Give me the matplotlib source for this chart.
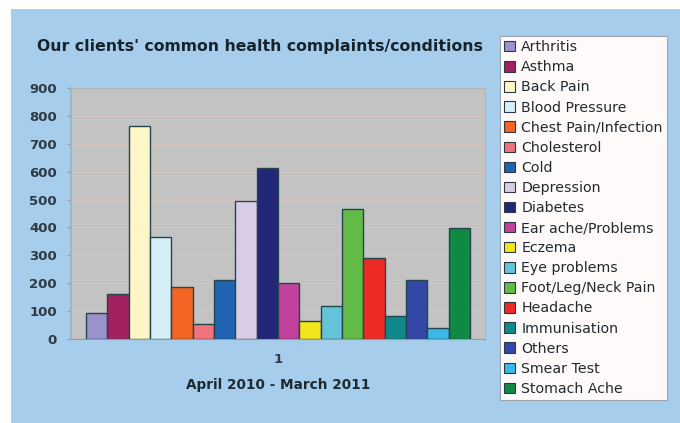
import matplotlib
matplotlib.use("Agg")
import matplotlib.pyplot as plt
from matplotlib.patches import Rectangle, Patch
import numpy as np

# Complaint categories and counts for the period
categories = ["Arthritis", "Asthma", "Back Pain", "Blood Pressure",
              "Chest Pain/Infection", "Cholesterol", "Cold", "Depression",
              "Diabetes", "Ear ache/Problems", "Eczema", "Eye problems",
              "Foot/Leg/Neck Pain", "Headache", "Immunisation", "Others",
              "Smear Test", "Stomach Ache"]
counts = [95, 160, 765, 365, 188, 52, 213, 495, 612, 202, 63, 120,
          466, 289, 82, 213, 38, 399]
colors = ["#9b93cc", "#a3215f", "#fff6c8", "#d6eef6", "#f26522", "#f2737b",
          "#2063b0", "#d9cce6", "#232576", "#c2419b", "#f4e41c", "#64c3d6",
          "#62bb46", "#ee2a24", "#11898a", "#3247a6", "#3cb8e8", "#108a43"]
group_labels = ["1"]
yticks = list(range(0, 901, 100))

plt.rcParams["font.family"] = ["DejaVu Sans"]
fig = plt.figure(figsize=(6.8, 4.23), dpi=100, facecolor="white")

# light blue chart background
fig.patches.append(Rectangle((11 / 680, 0), 1 - 11 / 680, (423 - 9) / 423,
                             transform=fig.transFigure, facecolor="#a6cdec",
                             edgecolor="none", zorder=-5))

ax = fig.add_axes([71 / 680, (423 - 339) / 423, 414 / 680, 251 / 423])
ax.set_zorder(1)
ax.set_facecolor("#c3c3c3")

n = len(categories)
group_width = 0.8
w = group_width / n
x0 = np.arange(len(group_labels))
for i, (lab, val, col) in enumerate(zip(categories, counts, colors)):
    ax.bar(x0 + (i - (n - 1) / 2) * w, [val], width=w, color=col,
           edgecolor="#24454d", linewidth=1.0, label=lab, zorder=3)

half = group_width / 2 * 414 / 384
ax.set_xlim(-half, half)
ax.set_ylim(0, 900)
ax.set_yticks(yticks)
ax.set_yticklabels([str(t) for t in yticks], fontsize=9.5, fontweight="bold",
                   color="#2e3a44")
ax.set_xticks(x0)
ax.set_xticklabels(group_labels, fontsize=9.5, fontweight="bold", color="#2e3a44")
ax.tick_params(axis="y", length=3, pad=7, color="#8aa0b0")
ax.tick_params(axis="x", length=0, pad=10)
ax.yaxis.grid(True, color="#d6c4c0", linewidth=0.8, zorder=1)
ax.set_axisbelow(True)
ax.spines["left"].set_color("#90b4cc")
ax.spines["left"].set_linewidth(1.2)
ax.spines["bottom"].set_color("#8e9ca4")
ax.spines["top"].set_color("#b4b4b4")
ax.spines["right"].set_color("#b4b4b4")

ax.set_xlabel("April 2010 - March 2011", fontsize=9.8, fontweight="bold",
              color="#1e2a30", labelpad=9)

fig.text(260 / 680, (423 - 47) / 423,
         "Our clients' common health complaints/conditions",
         ha="center", va="center", fontsize=11.3, fontweight="bold",
         color="#18242c")

handles = [Patch(facecolor=c, edgecolor="#2a3a44", linewidth=0.8) for c in colors]
leg = fig.legend(handles, categories, loc="upper left",
                 bbox_to_anchor=(500 / 680, (423 - 36) / 423),
                 fontsize=10.2, frameon=True, fancybox=False, framealpha=1,
                 handlelength=0.75, handleheight=0.75, handletextpad=0.45,
                 labelspacing=0.43, borderpad=0.3, borderaxespad=0)
leg.get_frame().set_facecolor("#fffafa")
leg.get_frame().set_edgecolor("#9aa4aa")
leg.get_frame().set_linewidth(0.8)
for t in leg.get_texts():
    t.set_color("#222a30")

fig.savefig("out.png", dpi=100, facecolor="white")
